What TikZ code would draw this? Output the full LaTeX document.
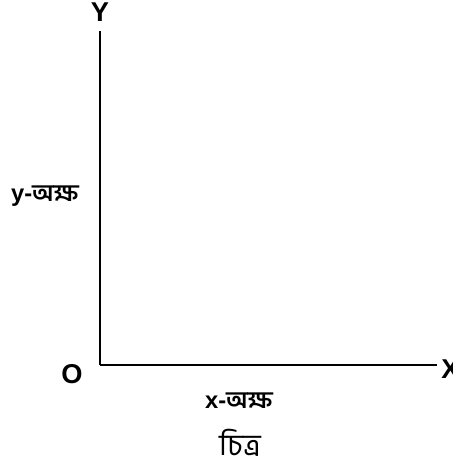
\documentclass[tikz,border=0pt]{standalone}
\usepackage{fontspec}
\setmainfont{Liberation Sans}
\newfontfamily\bangla[Script=Bengali]{Hind Siliguri}
\usetikzlibrary{positioning}

\tikzset{
  axisline/.style={black, line width=1.1pt},
  axisname/.style={font=\fontsize{15.5}{17}\selectfont\bfseries, inner sep=0pt},
  axislabel/.style={font=\fontsize{13.5}{15}\selectfont\bfseries, inner sep=0pt}
}

\begin{document}
\begin{tikzpicture}[x=0.02cm, y=-0.02cm]
  \useasboundingbox (0,0) rectangle (452,465);

  % Origin and axis ends
  \coordinate (origin) at (100,365);
  \coordinate (ytop) at (100,31);
  \coordinate (xend) at (437,365);

  % Axes
  \draw[axisline] (origin) -- (ytop);
  \draw[axisline] (origin) -- (xend);

  % Axis letters
  \node[axisname] (ylet) at (100,12) {Y};
  \node[axisname, anchor=west] (xlet) at (441,369) {X};
  \node[axisname] (olet) at (72,374) {O};

  % Axis names
  \node[axislabel] (yname) at (45,196) {y-{\bangla অক্ষ}};
  \node[axislabel] (xname) at (239,401) {x-{\bangla অক্ষ}};

  % Caption
  \node[font=\fontsize{17}{19}\selectfont\bangla, inner sep=0pt] (caption) at (240,443) {চিত্র};
\end{tikzpicture}
\end{document}
